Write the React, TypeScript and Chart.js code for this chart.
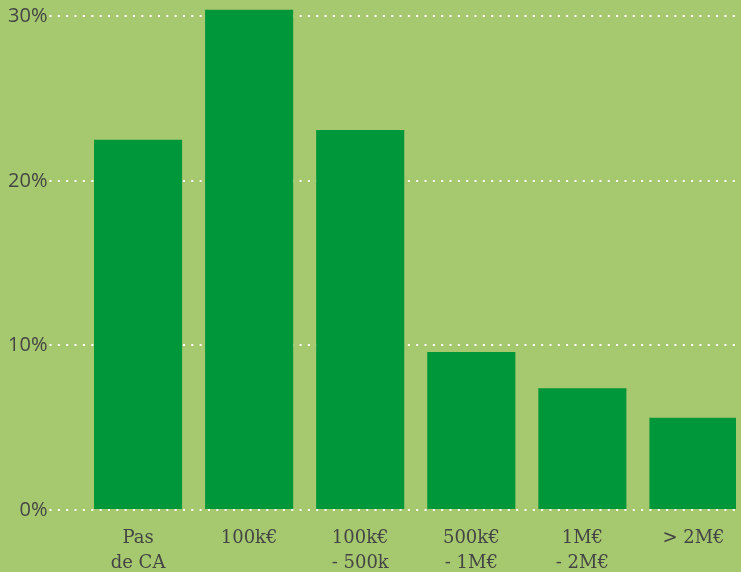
import { useEffect, useRef } from "react";
import { Chart, registerables } from "chart.js";

Chart.register(...registerables);

const categories: string[][] = [
  ["Pas", "de CA"],
  ["100k€"],
  ["100k€", "- 500k"],
  ["500k€", "- 1M€"],
  ["1M€", "- 2M€"],
  ["> 2M€"],
];
const values: number[] = [22.5, 30.4, 23.1, 9.6, 7.4, 5.6];
const yTicks: number[] = [0, 10, 20, 30];

const BG = "#a6c96f";
const BAR = "#00963a";
const TEXT = "#454545";

export default function App() {
  const ref = useRef<HTMLCanvasElement>(null);
  useEffect(() => {
    document.body.style.margin = "0";
    document.body.style.background = BG;
    const chart = new Chart(ref.current!, {
      type: "bar",
      data: {
        labels: categories,
        datasets: [
          {
            data: values,
            backgroundColor: BAR,
            barPercentage: 0.793,
            categoryPercentage: 1,
            clip: { left: false, top: false, right: -13, bottom: false } as any,
          },
        ],
      },
      options: {
        responsive: false,
        animation: false,
        layout: { padding: 0 },
        plugins: { legend: { display: false }, tooltip: { enabled: false } },
        scales: {
          x: {
            grid: { display: false, drawTicks: false },
            border: { display: false },
            ticks: {
              color: TEXT,
              font: { family: "DejaVu Serif", size: 18, lineHeight: 1.39 },
              padding: 16,
              maxRotation: 0,
              autoSkip: false,
            },
            afterFit: (s: any) => {
              s.height = 62;
              s.paddingLeft = 0;
              s.paddingRight = 0;
            },
          },
          y: {
            min: 0,
            max: 31,
            afterBuildTicks: (s: any) => {
              s.ticks = yTicks.map((v) => ({ value: v }));
            },
            grid: {
              color: "#ffffff",
              lineWidth: 2,
              borderDash: [2, 6.33],
              tickBorderDash: [2, 6.33],
              tickLength: 33,
              drawTicks: true,
            } as any,
            border: { display: false, dash: [2, 6.33] },
            ticks: {
              color: TEXT,
              font: { family: "Open Sans", size: 20 },
              padding: 2,
              callback: (v: any) => v + "%",
            },
            afterFit: (s: any) => {
              s.width = 82.5;
              s.paddingTop = 0;
              s.paddingBottom = 0;
            },
          },
        },
      },
    });
    return () => chart.destroy();
  }, []);
  return (
    <div style={{ width: 741, height: 572, overflow: "hidden", background: BG }}>
      <canvas ref={ref} width={749} height={572} style={{ display: "block" }} />
    </div>
  );
}
